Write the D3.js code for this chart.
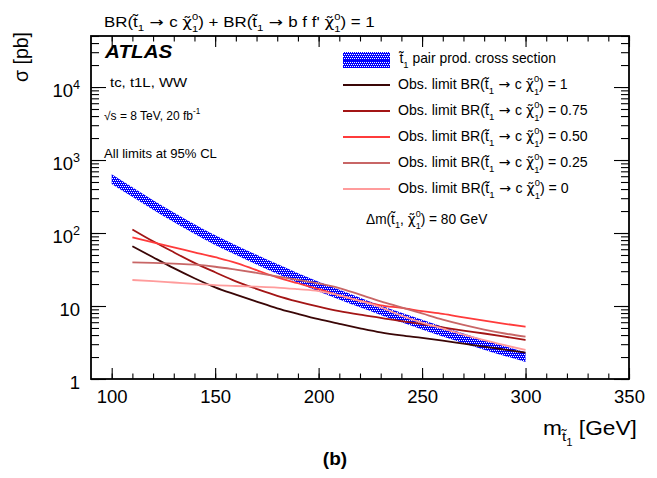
<!DOCTYPE html>
<html><head><meta charset="utf-8">
<script src="https://cdn.jsdelivr.net/npm/d3@7"></script>
<style>
body{margin:0;background:#fff}
svg{display:block}
text{font-family:"Liberation Sans",Arial,Helvetica,sans-serif;fill:#000;white-space:pre}
</style>
</head><body>
<svg id="c" width="657" height="478"></svg>
<script>
// ---------------- data ----------------
const bandMass = [100,110,120,130,140,150,160,170,180,190,200,210,220,230,240,250,260,270,280,290,300];
const xsecCentral = [550,366,243,165,114,80.3,58.7,43.3,32.3,24.3,18.5,14.4,11.2,8.83,6.99,5.58,4.47,3.62,2.95,2.42,2.0];
const xsecUp   = [638,425,282,191,132,93.1,68.1,50.2,37.5,28.2,21.5,16.7,13.0,10.2,8.11,6.47,5.19,4.20,3.42,2.81,2.32];
const xsecDown = [470,313,208,141,97.5,68.7,50.2,37.0,27.6,20.8,15.8,12.3,9.58,7.55,5.98,4.77,3.82,3.10,2.52,2.07,1.71];

const limitMass = [110,120,130,140,150,160,170,180,190,200,210,220,230,240,250,260,270,280,290,300];
const limitBR100 = [66,46.5,33,24,18,14.3,11.5,9.3,7.8,6.6,5.7,4.95,4.35,3.95,3.65,3.35,3.05,2.78,2.53,2.3];
const limitBR075 = [112,77,54.5,39,29,21.8,17.2,13.8,11.5,9.8,8.5,7.6,6.9,6.2,5.66,5.1,4.6,4.2,3.8,3.42];
const limitBR050 = [87,74.5,63.7,54.5,46.6,39.1,31,24.7,20.5,17,14,11.8,10.2,9.4,8.5,7.8,7.0,6.3,5.7,5.2];
const limitBR025 = [39.7,39,38,36.8,34.5,31.5,28.5,25.5,22.8,20.4,17.6,14.3,11.6,9.6,7.9,6.5,5.5,4.75,4.2,3.8];
const limitBR000 = [22.7,21.9,21.0,20.1,19.3,18.8,18.4,17.9,17.0,16.0,14.0,11.7,9.6,7.4,5.9,4.9,4.05,3.4,2.9,2.5];
const limitBRLabels = ["1","0.75","0.50","0.25","0"];

const xTickLabels = [100,150,200,250,300,350];
const yTickLabels = [1,10,100,1000,10000];

// ---------------- styles ----------------
const limitColors = ["#3a0606","#a31515","#ff3b3b","#c86666","#ff9c9c"];
const X0 = 91, X1 = 629, Y0 = 379, Y1 = 36;

const svg = d3.select("#c");
const x = d3.scaleLinear().domain([90,350]).range([X0,X1]);
const y = d3.scaleLog().domain([1,5e4]).range([Y0,Y1]);
const defs = svg.append("defs");
defs.append("clipPath").attr("id","clip").append("rect")
  .attr("x",X0).attr("y",Y1).attr("width",X1-X0).attr("height",Y0-Y1);

// rich text helper (sub/superscripts)
function rich(parent, parts, fs, attrs) {
  const t = parent.append("text").attr("font-size", fs);
  Object.entries(attrs||{}).forEach(([k,v]) => t.attr(k,v));
  let cur = 0;
  const put = (str, size, off, dx, fam) => {
    const ts = t.append("tspan").attr("font-size", size).attr("dy", off - cur).text(str);
    if (dx) ts.attr("dx", dx);
    if (fam) ts.attr("font-family", fam);
    cur = off;
    return ts;
  };
  parts.forEach(p => {
    if (typeof p === "string") put(p, fs, 0);
    else if (p.dv) put(p.dv, fs, 0, 0, '"DejaVu Sans",sans-serif');
    else if (p.sub !== undefined) put(p.sub, fs*0.68, fs*0.3);
    else if (p.sup !== undefined) put(p.sup, fs*0.68, -fs*0.42);
    else if (p.subsub !== undefined) put(p.subsub, fs*0.5, fs*0.55);
    else if (p.ss) {
      const a = put(p.ss[0], fs*0.66, -fs*0.5);
      const w = a.node().getComputedTextLength();
      put(p.ss[1], fs*0.66, fs*0.36, -w);
    }
  });
  return t;
}
// stretch a text horizontally so it spans [x0,x1]
function fitX(t, x0, x1) {
  const bb = t.node().getBBox();
  const s = (x1 - x0) / bb.width;
  t.attr("transform", `translate(${x0},0) scale(${s},1) translate(${-bb.x},0)`);
}
const T = "t\u0303", CHI = {dv:"\u03c7\u0303"}, AR = {dv:" \u2192 "};

// ---------------- band (blue dotted fill) ----------------
const bandData = bandMass.map((m,i)=>({m, lo:xsecDown[i], hi:xsecUp[i]}));
const areaGen = d3.area().x(d=>x(d.m)).y0(d=>y(d.lo)).y1(d=>y(d.hi)).curve(d3.curveMonotoneX);
defs.append("clipPath").attr("id","bandclip").append("path").attr("d", areaGen(bandData));
function dotted(g, x0, y0, w, h) {
  g.append("rect").attr("x",x0).attr("y",y0).attr("width",w).attr("height",h).attr("fill","#0000ff");
  for (let yy = y0, r = 0; yy < y0 + h; yy += 2, r++) {
    g.append("line").attr("x1",x0 + (r % 2)).attr("x2",x0+w).attr("y1",yy+0.5).attr("y2",yy+0.5)
      .attr("stroke","#fff").attr("stroke-width",1).attr("stroke-dasharray","1 1")
      .attr("shape-rendering","crispEdges");
  }
}
const plot = svg.append("g").attr("clip-path","url(#clip)");
dotted(plot.append("g").attr("clip-path","url(#bandclip)"), X0, Y1, X1-X0, Y0-Y1);

// ---------------- limit lines ----------------
const limits = [limitBR100, limitBR075, limitBR050, limitBR025, limitBR000];
const line = d3.line().x(d=>x(d[0])).y(d=>y(d[1])).curve(d3.curveMonotoneX);
limits.forEach((arr,k) => {
  plot.append("path").datum(limitMass.map((m,i)=>[m,arr[i]]))
    .attr("d", line).attr("fill","none").attr("stroke", limitColors[k]).attr("stroke-width",1.8);
});

// ---------------- axes ----------------
const xMinor = d3.range(100, 351, 10);
const yAll = y.ticks();
function axisTicks(gen, tx, ty, vals, size) {
  const g = svg.append("g").attr("transform",`translate(${tx},${ty})`)
    .call(gen.tickValues(vals).tickSize(size).tickFormat(""));
  g.select(".domain").remove();
  g.selectAll("line").attr("stroke","#000").attr("stroke-width",1.1);
  return g;
}
axisTicks(d3.axisBottom(x), 0, Y0, xMinor, -5.5);
axisTicks(d3.axisBottom(x), 0, Y0, xTickLabels, -11);
axisTicks(d3.axisTop(x), 0, Y1, xMinor, -5.5);
axisTicks(d3.axisTop(x), 0, Y1, xTickLabels, -11);
axisTicks(d3.axisLeft(y), X0, 0, yAll, -8);
axisTicks(d3.axisLeft(y), X0, 0, yTickLabels, -15);
axisTicks(d3.axisRight(y), X1, 0, yAll, -8);
axisTicks(d3.axisRight(y), X1, 0, yTickLabels, -15);

svg.append("rect").attr("x",X0).attr("y",Y1).attr("width",X1-X0).attr("height",Y0-Y1)
  .attr("fill","none").attr("stroke","#000").attr("stroke-width",1.8);

// x tick labels
const xl = svg.append("g").attr("transform",`translate(0,${Y0})`)
  .call(d3.axisBottom(x).tickValues(xTickLabels).tickSize(0).tickPadding(0).tickFormat(d=>d));
xl.select(".domain").remove();
xl.selectAll("text").attr("font-size",18.5).attr("dy",null).attr("y",23.5)
  .attr("font-family",'"Liberation Sans",Arial,sans-serif');

// y tick labels
const yl = svg.append("g").attr("transform",`translate(${X0},0)`)
  .call(d3.axisLeft(y).tickValues(yTickLabels).tickSize(0).tickFormat(""));
yl.select(".domain").remove();
yl.selectAll(".tick").each(function(d){
  const e = Math.round(Math.log10(d));
  const parts = e <= 1 ? [String(d)] : ["10", {sup:String(e)}];
  rich(d3.select(this), parts, 18.5, {"text-anchor":"end","x":-11,"y":9.5});
});

// axis titles
rich(svg, ["\u03c3 [pb]"], 19.5, {"text-anchor":"end","transform":"translate(28,32) rotate(-90)"});
fitX(rich(svg, ["m", {sub:T}, {subsub:"1"}, " [GeV]"], 20, {"x":543,"y":435}), 543, 637);

// header
fitX(rich(svg, ["BR(", T, {sub:"1"}, AR, "c ", CHI, {ss:["0","1"]}, ") + BR(", T, {sub:"1"},
  AR, "b f f' ", CHI, {ss:["0","1"]}, ") = 1"], 14, {"x":104,"y":27}), 104, 375);

fitX(svg.append("text").attr("x",104).attr("y",58).attr("font-size",18.5).attr("font-weight","bold")
  .attr("font-style","italic").text("ATLAS"), 104, 173);
fitX(rich(svg, ["tc, t1L, WW"], 13, {"x":110,"y":87}), 110, 188);
rich(svg, ["\u221as = 8 TeV, 20 fb", {sup:"-1"}], 12, {"x":104,"y":119.5});
fitX(rich(svg, ["All limits at 95% CL"], 13, {"x":104,"y":158}), 104, 217);

// legend
const LX0 = 343, LX1 = 390, LT = 398;
dotted(svg.append("g"), LX0, 52, LX1-LX0, 16);
svg.append("line").attr("x1",LX0).attr("x2",LX1).attr("y1",60).attr("y2",60).attr("stroke","#0000ff").attr("stroke-width",2);
fitX(rich(svg, [T, {sub:"1"}, " pair prod. cross section"], 14, {"x":LT,"y":63.5}), LT, 556);
const legY = [85,111,137,163,189];
const legEnd = [568,588,588,588,569];
limitBRLabels.forEach((lab,k) => {
  svg.append("line").attr("x1",LX0).attr("x2",LX1).attr("y1",legY[k]).attr("y2",legY[k])
    .attr("stroke",limitColors[k]).attr("stroke-width",2);
  fitX(rich(svg, ["Obs. limit BR(", T, {sub:"1"}, AR, "c ", CHI, {ss:["0","1"]}, ") = " + lab], 14,
    {"x":LT,"y":legY[k]+4.5}), LT, legEnd[k]);
});
fitX(rich(svg, ["\u0394m(", T, {sub:"1"}, ", ", CHI, {ss:["0","1"]}, ") = 80 GeV"], 14, {"x":366,"y":224}), 366, 488);

// panel label
svg.append("text").attr("x",335).attr("y",465).attr("text-anchor","middle")
  .attr("font-family",'"Liberation Serif","Times New Roman",serif').attr("font-weight","bold")
  .attr("font-size",19).text("(b)");
</script>
</body></html>
